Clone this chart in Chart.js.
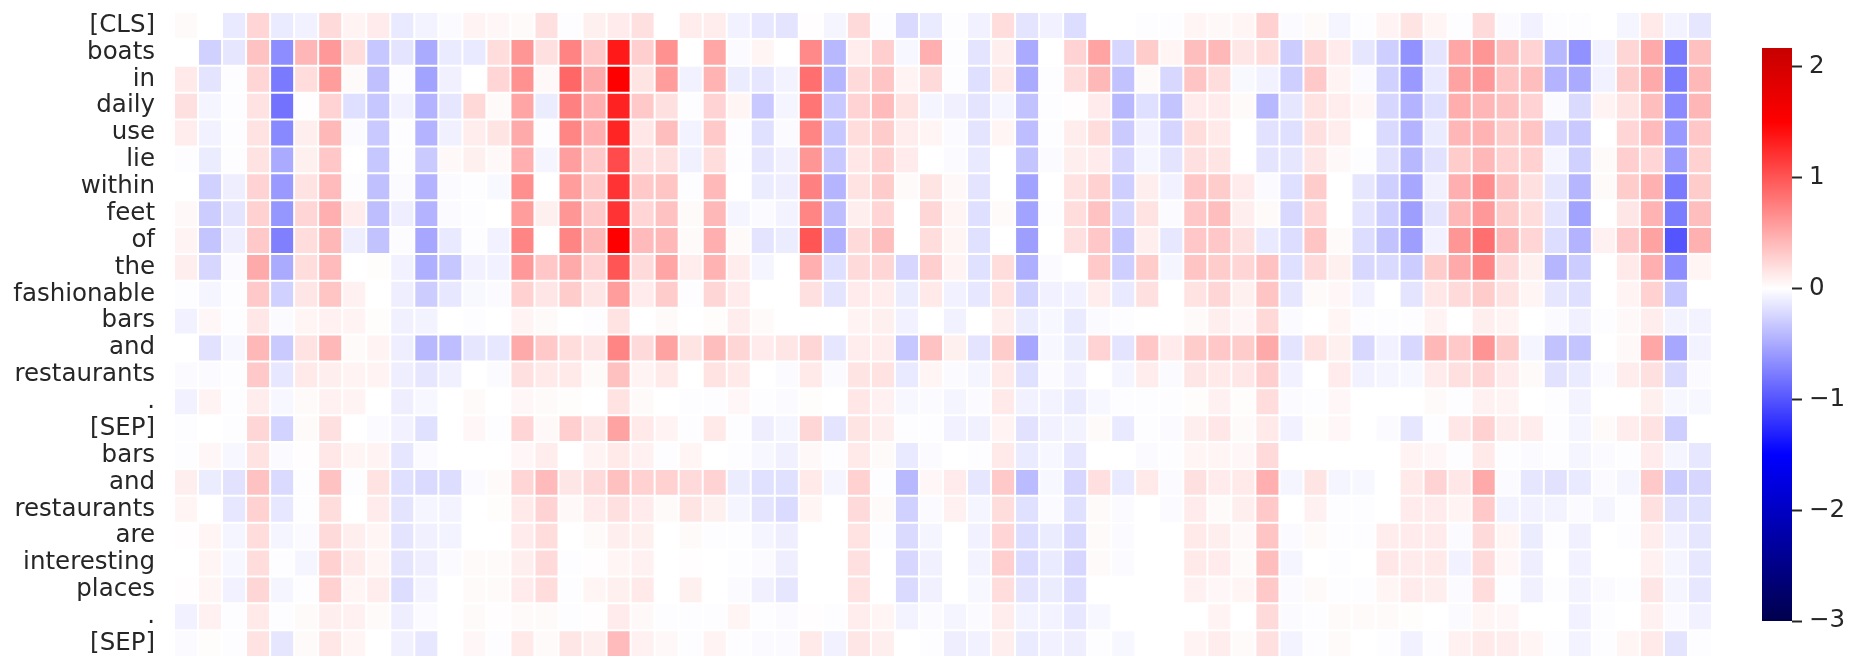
<!DOCTYPE html>
<html>
<head>
<meta charset="utf-8">
<title>heatmap</title>
<script src="https://cdn.jsdelivr.net/npm/chart.js@4/dist/chart.umd.min.js"></script>
<style>
    html, body { margin: 0; padding: 0; background: #fff; overflow: hidden; }
    #heat-box { position: absolute; left: 0; top: 0; width: 1730px; height: 670px; }
    #bar-box { position: absolute; left: 1740px; top: 0; width: 116px; height: 670px; }
</style>
</head>
<body>
<div id="heat-box"><canvas id="heat-chart"></canvas></div>
<div id="bar-box"><canvas id="bar-chart"></canvas></div>
<script>
// token labels, top to bottom
const tokens = ['[CLS]', 'boats', 'in', 'daily', 'use', 'lie', 'within', 'feet', 'of', 'the', 'fashionable', 'bars', 'and', 'restaurants', '.', '[SEP]', 'bars', 'and', 'restaurants', 'are', 'interesting', 'places', '.', '[SEP]'];

// values per row, 64 columns each
const rowCls = [.03,0,-.13,.25,-.12,-.08,.22,.07,.12,-.13,-.07,-.03,.07,.05,.03,.18, -.01,.09,.12,.18,0,.11,.11,-.08,-.14,-.16,.01,-.06,.22,-.01,-.22,-.12, -.01,-.08,.2,-.16,-.08,-.2,0,0,-.01,-.01,.06,.04,.06,.27,-.03,.03, -.06,-.01,.07,.16,.06,-.01,.22,-.03,-.08,-.01,-.01,0,-.06,.13,-.07,-.15];
const rowBoats = [0,-.27,-.15,.36,-.67,.43,.6,.2,-.33,-.16,-.5,-.12,-.13,.2,.62,.18, .73,.32,1.35,.28,.65,0,.52,-.03,.06,0,.7,-.42,.11,.28,-.05,.47, -.01,-.16,.1,-.5,0,.26,.54,-.24,.3,.06,.38,.42,.15,.2,-.3,.24, .12,-.15,-.28,-.65,-.16,.52,.62,.38,.26,-.42,-.65,-.08,.24,.5,-.78,.37];
const rowIn = [.13,-.16,-.01,.25,-.78,.2,.58,.03,-.37,-.01,-.55,-.09,0,.25,.65,.04, .9,.5,1.5,.16,.58,-.08,.45,-.11,-.15,-.07,.85,-.43,.22,.35,.07,.22, -.01,-.19,.13,-.5,-.01,.2,.42,-.36,.03,-.23,.34,.2,-.04,-.08,-.28,.32, .07,-.03,-.27,-.6,-.13,.55,.6,.35,.38,-.45,-.5,-.08,.3,.5,-.77,.42];
const rowDaily = [.18,-.06,-.01,.17,-.83,.01,.26,-.19,-.33,-.08,-.45,-.15,.23,.03,.53,-.11, .75,.47,1.3,.32,.18,-.01,.26,.06,-.32,-.06,.82,-.32,.26,.4,.17,-.06, -.09,-.16,-.06,-.36,-.01,.01,.12,-.42,-.19,-.35,.12,.12,.03,-.42,-.15,.17, .11,.05,-.24,-.45,-.19,.48,.43,.36,.26,-.03,-.22,.07,.17,.38,-.68,.43];
const rowUse = [.11,-.08,-.01,.17,-.7,.1,.42,-.03,-.32,-.01,-.45,-.09,.11,.16,.5,-.01, .72,.47,1.28,.14,.38,-.07,.32,-.01,-.18,-.03,.72,-.33,.2,.3,.11,.06, -.03,-.16,.06,-.39,-.01,.11,.2,-.31,-.08,-.25,.2,.13,0,-.17,-.19,.18, .11,0,-.22,-.45,-.12,.43,.45,.3,.35,-.25,-.32,0,.25,.4,-.6,.33];
const rowLie = [-.01,-.11,-.01,.17,-.5,.09,.33,0,-.33,-.01,-.31,.04,.09,.04,.47,-.06, .57,.32,1.06,.18,.18,-.09,.2,-.01,-.15,-.09,.62,-.32,.14,.27,.12,0, -.03,-.13,0,-.35,-.03,.1,.12,-.24,-.06,-.16,.18,.16,0,-.16,-.15,.15, .04,-.01,-.17,-.42,-.17,.3,.42,.27,.27,-.06,-.27,.03,.28,.25,-.58,.27];
const rowWithin = [0,-.27,-.1,.26,-.6,.17,.4,-.01,-.37,-.03,-.45,-.03,-.01,-.04,.66,0, .58,.32,1.2,.32,.35,-.01,.41,0,-.11,-.1,.75,-.44,.17,.3,.03,.16, .04,-.16,0,-.55,0,.17,.27,-.28,.1,-.08,.33,.3,.12,-.03,-.19,.3, 0,-.15,-.28,-.52,-.09,.47,.67,.36,.18,-.15,-.43,.03,.3,.46,-.78,.3];
const rowFeet = [.04,-.3,-.16,.27,-.62,.25,.47,.11,-.38,-.1,-.45,-.03,-.01,0,.58,.09, .62,.32,1.2,.25,.36,.03,.42,-.06,-.03,-.07,.72,-.38,.1,.25,0,.24, .06,-.19,.03,-.55,-.01,.2,.36,-.24,.17,-.03,.33,.38,.1,.03,-.23,.25, 0,-.16,-.28,-.57,-.16,.42,.6,.3,.2,-.16,-.55,0,.15,.45,-.77,.38];
const rowOf = [.07,-.35,-.1,.32,-.75,.2,.42,-.1,-.36,-.02,-.52,-.13,-.01,-.08,.72,0, .72,.42,1.5,.4,.42,.03,.47,.03,-.16,-.11,1,-.46,.22,.38,0,.2, .06,-.18,0,-.57,0,.18,.33,-.33,.1,-.14,.33,.33,.18,-.13,-.2,.34, .03,-.2,-.36,-.57,-.08,.62,.85,.43,.25,-.2,-.45,.08,.32,.55,-1,.46];
const rowThe = [.1,-.24,-.03,.5,-.5,.2,.4,0,.02,-.08,-.47,-.33,-.08,-.08,.6,.33, .5,.26,1,.22,.53,.11,.45,.11,-.06,0,.47,-.19,.22,.24,-.24,.28, .07,-.18,.2,-.47,-.03,0,.32,-.28,.3,-.06,.34,.3,.25,.36,-.19,.22, .09,-.23,-.22,-.3,.3,.5,.72,.22,.09,-.43,-.3,0,.13,.47,-.67,.06];
const rowFashionable = [-.01,-.06,-.01,.32,-.27,.15,.34,.08,0,-.1,-.3,-.14,-.04,-.03,.27,.15, .3,.15,.58,.12,.3,-.01,.24,.12,0,0,.18,-.16,.12,.11,-.11,.13, -.08,-.14,.17,-.26,-.08,-.08,.11,-.13,.18,0,.17,.24,.09,.35,-.15,.03, .05,-.08,0,-.16,.14,.22,.3,.17,.06,-.15,-.19,0,.07,.27,-.33,0];
const rowBars1 = [-.08,.05,-.01,.14,-.03,.06,.08,.07,.02,-.09,-.07,0,-.01,0,.07,.03, 0,-.01,.17,0,.03,0,.02,.11,.03,0,0,0,.07,.09,-.08,0, -.08,0,.1,-.11,-.05,-.12,-.03,-.01,0,0,.03,.1,.05,.23,-.03,0, .06,-.01,-.01,-.01,.07,0,.1,.07,0,-.03,-.09,-.01,.04,.11,-.07,-.07];
const rowAnd1 = [0,-.17,-.05,.42,-.31,.17,.42,.03,.07,-.1,-.42,-.39,-.15,-.14,.5,.32, .2,.15,.72,.22,.55,.16,.38,.24,.12,.15,.24,-.15,.11,.11,-.33,.36, .09,-.16,.3,-.52,-.05,-.11,.26,-.16,.33,.12,.3,.33,.3,.5,-.16,.17, .09,-.23,-.08,-.23,.42,.32,.63,.3,-.06,-.36,-.35,0,.04,.52,-.52,-.07];
const rowRest1 = [-.03,-.03,-.01,.32,-.14,.13,.1,.07,.07,-.1,-.15,-.09,0,-.03,.18,.13, .13,.03,.37,.07,.13,0,.17,.13,0,-.03,.13,-.03,.16,.17,-.13,.06, -.03,-.06,.13,-.18,-.03,-.08,0,-.06,.11,-.03,.15,.13,.14,.28,-.08,0, .12,-.08,-.06,-.05,.12,.18,.25,.12,.03,-.17,-.12,-.03,.11,.18,-.22,-.03];
const rowDot1 = [-.08,.07,-.01,.11,-.05,.03,.08,.07,0,-.1,-.05,0,.03,0,.05,.03, .02,0,.17,.03,0,-.01,-.01,.05,-.01,-.03,.02,0,.14,.08,-.05,-.03, -.06,-.03,.13,-.08,-.07,-.12,-.05,-.01,-.01,-.01,.02,.08,.02,.2,-.03,-.01, .05,0,0,0,.03,-.01,.08,.07,0,-.01,-.07,0,0,.09,-.05,-.05];
const rowSep1 = [-.01,0,-.01,.24,-.26,.03,.18,0,-.03,-.08,-.18,0,.05,-.01,.25,.04, .28,.15,.55,.13,.07,-.01,.13,-.01,-.1,-.06,.24,-.16,.16,.1,-.01,-.01, -.08,-.09,.07,-.17,-.08,-.07,.03,-.13,-.01,-.03,.1,.14,.03,.13,-.08,.02, .05,0,-.03,-.15,-.01,.14,.27,.11,.11,-.01,-.06,.03,.11,.17,-.28,0];
const rowBars2 = [-.01,.05,-.05,.17,-.03,.01,.14,.06,.07,-.15,-.03,0,0,0,.05,.11, 0,.07,.13,.08,-.01,.06,0,-.01,-.05,-.09,.04,-.01,.13,.03,-.13,-.03, 0,-.01,.13,-.12,-.05,-.14,0,0,-.03,-.01,.06,.06,.05,.22,0,0, 0,0,0,.07,.05,-.01,.13,-.01,-.03,-.01,-.06,-.03,-.01,.12,-.06,-.14];
const rowAnd2 = [.1,-.11,-.17,.36,-.22,-.01,.36,-.01,.17,-.19,-.22,-.2,-.03,.03,.25,.4, .15,.22,.37,.27,.27,.22,.26,-.11,-.18,-.18,.13,-.06,.27,-.01,-.42,.05, .12,-.15,.32,-.4,-.05,-.24,.19,-.13,.13,-.03,.18,.12,.13,.47,-.06,.16, -.06,-.05,0,.13,.26,.14,.5,-.03,-.15,-.17,-.13,-.03,-.06,.32,-.3,-.24];
const rowRest2 = [.06,0,-.14,.27,-.14,-.01,.2,0,.12,-.16,-.06,-.07,0,.02,.13,.26, .04,.12,.18,.12,.03,.16,.09,-.06,-.16,-.21,.06,0,.22,.03,-.27,-.03, .08,-.06,.2,-.18,-.03,-.18,.03,-.03,0,-.03,.12,.03,.1,.32,0,.08, -.01,-.01,0,.12,.12,.07,.32,-.07,-.08,-.07,-.03,-.06,-.01,.18,-.17,-.18];
const rowAre = [.01,.06,-.06,.2,-.06,-.03,.22,.1,.06,-.16,-.09,-.07,0,0,.12,.2, 0,.03,.1,.09,0,.03,-.01,-.01,-.06,-.1,0,0,.17,-.01,-.22,-.06, 0,-.08,.25,-.2,-.11,-.22,.03,-.03,0,0,.13,.1,.04,.35,-.03,.03, -.01,-.01,.11,.12,.12,-.03,.22,.06,-.11,-.01,-.09,0,-.01,.11,-.08,-.15];
const rowInteresting = [0,.06,-.05,.2,-.01,-.06,.27,.13,.06,-.16,-.1,-.03,.03,.03,.1,.22, -.01,.01,.06,.08,0,.01,0,-.01,-.03,-.1,0,0,.18,0,-.24,-.09, 0,-.07,.28,-.21,-.12,-.24,.03,-.03,0,0,.13,.12,.03,.38,-.06,0, -.01,0,.14,.12,.13,-.08,.22,.05,-.1,0,-.08,0,0,.08,-.06,-.14];
const rowPlaces = [.01,.06,-.08,.24,-.06,-.01,.27,.06,.11,-.2,-.07,0,.03,.03,.12,.2, -.01,.06,.09,.13,0,.09,0,-.03,-.09,-.15,0,0,.17,0,-.22,-.09, 0,-.05,.2,-.16,-.11,-.2,0,0,0,0,.08,.05,.06,.32,-.03,.03, -.01,-.01,.06,.12,.1,-.03,.2,-.01,-.09,-.01,-.07,-.03,-.01,.15,-.06,-.14];
const rowDot2 = [-.08,.08,-.01,.13,-.01,.03,.1,.08,.03,-.1,-.03,0,.03,.01,.03,.03, -.01,.01,.12,.04,-.01,-.01,-.01,.06,-.01,-.03,.01,-.01,.11,.06,-.07,-.03, -.06,-.03,.11,-.07,-.07,-.14,-.05,0,0,0,0,.07,0,.22,-.03,-.01, .03,.03,.03,.02,0,-.03,.06,.05,0,0,-.08,-.01,0,.08,-.03,-.08];
const rowSep2 = [-.03,.02,-.01,.17,-.15,.03,.14,.06,0,-.09,-.14,0,.05,-.01,.13,.03, .15,.1,.4,.08,.04,-.01,.07,-.01,-.03,-.03,.13,-.08,.15,.1,0,-.01, -.1,-.08,.1,-.12,-.08,-.1,-.01,-.05,0,0,.07,.11,.03,.18,-.07,-.01, .03,0,-.01,-.08,-.01,.08,.13,.11,.06,-.01,-.07,-.01,.06,.13,-.16,-.01];

const rows = [rowCls, rowBoats, rowIn, rowDaily, rowUse, rowLie, rowWithin, rowFeet, rowOf, rowThe, rowFashionable, rowBars1, rowAnd1, rowRest1, rowDot1, rowSep1, rowBars2, rowAnd2, rowRest2, rowAre, rowInteresting, rowPlaces, rowDot2, rowSep2];

// colorbar range and ticks
const barMin = -3;
const barMax = 2.17;
const barTicks = [-3, -2, -1, 0, 1, 2];

const textColor = '#262626';
const fontFamily = '"DejaVu Sans", sans-serif';

// seismic colormap, centred on 0, runs -3..3
function seismic(v) {
    const t = Math.max(-3, Math.min(3, v));
    let r, g, b;
    if (t >= 1.5) {
        r = 255 - 127.5 * (t - 1.5) / 1.5; g = 0; b = 0;
    } else if (t >= 0) {
        r = 255; g = 255 * (1 - t / 1.5); b = g;
    } else if (t >= -1.5) {
        r = 255 * (1 + t / 1.5); g = r; b = 255;
    } else {
        r = 0; g = 0; b = 255 - 178.5 * (-t - 1.5) / 1.5;
    }
    return `rgb(${Math.round(r)},${Math.round(g)},${Math.round(b)})`;
}

// one stacked dataset per column, each cell is one unit wide
const columnCount = rows[0].length;
const datasets = [];
for (let c = 0; c < columnCount; c++) {
    datasets.push({
        data: rows.map(() => 1),
        backgroundColor: rows.map(row => seismic(row[c])),
        borderColor: '#ffffff',
        borderWidth: 1,
        borderSkipped: false,
        inflateAmount: 0,
        barPercentage: 1,
        categoryPercentage: 1
    });
}

new Chart(document.getElementById('heat-chart').getContext('2d'), {
    type: 'bar',
    data: { labels: tokens, datasets: datasets },
    options: {
        indexAxis: 'y',
        responsive: true,
        maintainAspectRatio: false,
        animation: false,
        layout: { padding: { top: 12, bottom: 13, right: 18 } },
        plugins: { legend: { display: false }, tooltip: { enabled: false } },
        scales: {
            x: { display: false, stacked: true, min: 0, max: columnCount },
            y: {
                stacked: true,
                // keep the label padding out of the plot height
                afterFit: scale => {
                    scale.width = 174;
                    scale.paddingTop = 0;
                    scale.paddingBottom = 0;
                },
                border: { display: false },
                grid: { display: false, drawTicks: false },
                ticks: {
                    autoSkip: false,
                    padding: 19,
                    color: textColor,
                    font: { family: fontFamily, size: 24.5 }
                }
            }
        }
    }
});

// colorbar: a single floating bar filled with the colormap
new Chart(document.getElementById('bar-chart').getContext('2d'), {
    type: 'bar',
    data: {
        labels: [''],
        datasets: [{
            data: [[barMin, barMax]],
            borderWidth: 0,
            barPercentage: 1,
            categoryPercentage: 1,
            backgroundColor: ctx => {
                const area = ctx.chart.chartArea;
                const y = ctx.chart.scales.y;
                if (!area || !y) return seismic(0);
                const grad = ctx.chart.ctx.createLinearGradient(0, y.getPixelForValue(barMin), 0, y.getPixelForValue(barMax));
                [barMin, -1.5, 0, 1.5, barMax].forEach(v => {
                    grad.addColorStop((v - barMin) / (barMax - barMin), seismic(v));
                });
                return grad;
            }
        }]
    },
    options: {
        responsive: true,
        maintainAspectRatio: false,
        animation: false,
        layout: { padding: { top: 48, bottom: 49, left: 22 } },
        plugins: { legend: { display: false }, tooltip: { enabled: false } },
        scales: {
            x: { display: false },
            y: {
                position: 'right',
                min: barMin,
                max: barMax,
                afterFit: scale => { scale.width = 64; },
                afterBuildTicks: scale => { scale.ticks = barTicks.map(v => ({ value: v })); },
                border: { display: false },
                grid: { drawOnChartArea: false, drawTicks: true, tickLength: 10, tickWidth: 2, tickColor: textColor },
                ticks: {
                    padding: 7,
                    color: textColor,
                    font: { family: fontFamily, size: 24.5 },
                    callback: v => String(v).replace('-', '\u2212')
                }
            }
        }
    }
});
</script>
</body>
</html>
